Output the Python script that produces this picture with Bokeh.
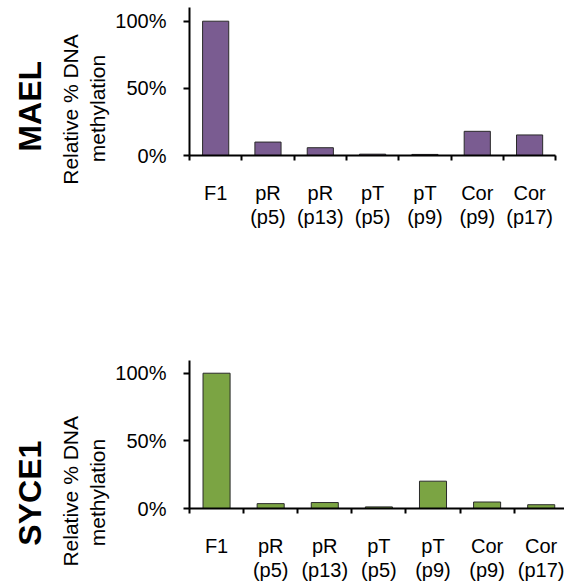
import numpy as np
from bokeh.plotting import figure
from bokeh.models import FixedTicker, PrintfTickFormatter, Label
from bokeh.layouts import column, row
from bokeh.embed import file_html
from bokeh.resources import INLINE

# ---- data ----
categories = ["F1", "pR\n(p5)", "pR\n(p13)", "pT\n(p5)", "pT\n(p9)", "Cor\n(p9)", "Cor\n(p17)"]
mael = [100, 10, 5.8, 1.0, 0.8, 18, 15.3]
syce1 = [100, 3.6, 4.4, 1.2, 20.2, 4.8, 2.8]
y_ticks = [0, 50, 100]
gene_names = ["MAEL", "SYCE1"]
y_label_lines = ["Relative % DNA", "methylation"]

FONT = "Liberation Sans"
PURPLE = "#7A5C91"
GREEN = "#7BA443"

TOTAL_H = 587
LABEL_W = 112
CHART_W = 452
LEFT_BORDER = 75
FRAME_W = CHART_W - LEFT_BORDER


def make_panel(values, color, height, top, bottom, cat_px, y_end, bounded):
    n = len(values)
    p = figure(width=CHART_W, height=height, x_range=(0, FRAME_W / cat_px), y_range=(0, y_end),
               output_backend="svg", toolbar_location=None,
               min_border_left=LEFT_BORDER, min_border_right=0,
               min_border_top=top, min_border_bottom=bottom)
    p.outline_line_color = None
    p.xgrid.visible = False
    p.ygrid.visible = False

    xs = np.arange(n) + 0.5
    p.vbar(x=xs, top=values, width=0.5, bottom=0, fill_color=color,
           line_color="#2a2a2a", line_width=1)

    # x axis: labels at category centres, tick marks at category boundaries
    xa = p.xaxis[0]
    xa.ticker = FixedTicker(ticks=list(xs), minor_ticks=list(range(n + 1)))
    xa.major_label_overrides = {float(x): c for x, c in zip(xs, categories)}
    if bounded:
        xa.bounds = (0, n)
    xa.major_tick_out = 0
    xa.major_tick_in = 0
    xa.minor_tick_out = 5
    xa.minor_tick_in = 0
    xa.minor_tick_line_width = 2
    xa.minor_tick_line_color = "black"
    xa.axis_line_width = 2
    xa.axis_line_color = "black"
    xa.major_label_standoff = 21
    xa.major_label_text_font = FONT
    xa.major_label_text_font_size = "20px"
    xa.major_label_text_color = "black"
    xa.major_label_text_line_height = 1.13

    ya = p.yaxis[0]
    ya.ticker = FixedTicker(ticks=y_ticks, minor_ticks=[])
    ya.formatter = PrintfTickFormatter(format="%d%%")
    ya.major_tick_out = 6
    ya.major_tick_in = 0
    ya.major_tick_line_width = 2
    ya.axis_line_width = 2
    ya.axis_line_color = "black"
    ya.major_label_standoff = 17
    ya.major_label_text_font = FONT
    ya.major_label_text_font_size = "20px"
    ya.major_label_text_color = "black"
    return p


p1 = make_panel(mael, PURPLE, height=240, top=7, bottom=85, cat_px=52.6,
                y_end=110.2, bounded=True)
p2 = make_panel(syce1, GREEN, height=347, top=120, bottom=79, cat_px=54.4,
                y_end=109.4, bounded=False)

# side strip holding the rotated gene names and y-axis titles
lab = figure(width=LABEL_W, height=TOTAL_H, x_range=(0, LABEL_W), y_range=(0, TOTAL_H),
             output_backend="svg", toolbar_location=None,
             x_axis_location=None, y_axis_location=None, min_border=0)
lab.outline_line_color = None
lab.xgrid.visible = False
lab.ygrid.visible = False

# (anchor x, centre y) in page pixels, measured from the top
gene_pos = [(29.5, 105.8), (29.5, 492.7)]
rel_pos = [(70, 109), (70, 490.8)]
meth_pos = [(97, 108), (97, 492)]

for gene, gp, rp, mp in zip(gene_names, gene_pos, rel_pos, meth_pos):
    lab.add_layout(Label(x=gp[0], y=TOTAL_H - gp[1], text=gene, angle=90, angle_units="deg",
                         text_align="center", text_baseline="alphabetic",
                         text_font=FONT, text_font_style="bold", text_font_size="32px",
                         text_color="black"))
    lab.add_layout(Label(x=rp[0], y=TOTAL_H - rp[1], text=y_label_lines[0], angle=90,
                         angle_units="deg", text_align="center", text_baseline="alphabetic",
                         text_font=FONT, text_font_size="21px", text_color="black"))
    lab.add_layout(Label(x=mp[0], y=TOTAL_H - mp[1], text=y_label_lines[1], angle=90,
                         angle_units="deg", text_align="center", text_baseline="alphabetic",
                         text_font=FONT, text_font_size="21px", text_color="black"))

layout = row(lab, column(p1, p2, spacing=0), spacing=0)
open("out.html", "w").write(file_html(layout, INLINE))
